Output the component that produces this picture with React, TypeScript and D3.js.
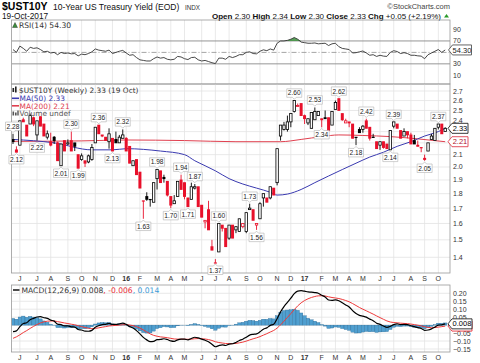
import React from "react";
import * as d3 from "d3";

// ---------- DATA (weekly, first week starts Mon 18-May-2015) ----------
const firstWeek = new Date(2015, 4, 18);

const opens = [
  2.23, 2.14, 2.18, 2.41, 2.36, 2.37, 2.43, 2.27, 2.44, 2.37,
  2.25, 2.21, 2.25, 2.20, 2.01, 2.22, 2.19, 2.22, 2.20, 2.10,
  2.06, 2.05, 2.04, 2.06, 2.20, 2.36, 2.27, 2.25, 2.21, 2.24,
  2.23, 2.20, 2.24, 2.24, 2.17, 2.01, 2.06, 1.96, 1.75, 1.78,
  1.76, 1.74, 1.91, 1.97, 1.92, 1.89, 1.78, 1.73, 1.78, 1.90,
  1.88, 1.77, 1.76, 1.84, 1.85, 1.72, 1.61, 1.69, 1.46, 1.37,
  1.43, 1.59, 1.57, 1.51, 1.59, 1.56, 1.55, 1.58, 1.55, 1.69,
  1.69, 1.59, 1.63, 1.77, 1.77, 1.77, 1.84, 1.88, 2.26, 2.32,
  2.32, 2.39, 2.49, 2.54, 2.57, 2.45, 2.38, 2.33, 2.41, 2.45,
  2.42, 2.43, 2.43, 2.36, 2.51, 2.62, 2.47, 2.38, 2.39, 2.37,
  2.25, 2.32, 2.32, 2.40, 2.34, 2.25, 2.21, 2.18, 2.21, 2.19,
  2.14, 2.35, 2.37, 2.31, 2.26, 2.30, 2.27, 2.22, 2.18, 2.16,
  2.07, 2.13, 2.23, 2.22, 2.34, 2.37, 2.30,
];
const highs = [
  2.28, 2.17, 2.40, 2.43, 2.36, 2.47, 2.44, 2.40, 2.44, 2.37,
  2.31, 2.29, 2.26, 2.21, 2.19, 2.22, 2.23, 2.30, 2.20, 2.10,
  2.11, 2.05, 2.10, 2.19, 2.34, 2.36, 2.27, 2.25, 2.33, 2.24,
  2.30, 2.27, 2.32, 2.25, 2.17, 2.05, 2.06, 1.96, 1.75, 1.81,
  1.76, 1.88, 1.98, 1.97, 1.94, 1.89, 1.78, 1.79, 1.89, 1.94,
  1.88, 1.77, 1.88, 1.87, 1.85, 1.72, 1.62, 1.75, 1.50, 1.39,
  1.60, 1.59, 1.57, 1.59, 1.59, 1.58, 1.63, 1.60, 1.67, 1.73,
  1.69, 1.60, 1.74, 1.80, 1.77, 1.85, 1.84, 2.15, 2.36, 2.39,
  2.45, 2.47, 2.60, 2.57, 2.57, 2.46, 2.42, 2.48, 2.53, 2.49,
  2.42, 2.50, 2.43, 2.49, 2.60, 2.62, 2.47, 2.42, 2.39, 2.37,
  2.25, 2.34, 2.36, 2.42, 2.34, 2.28, 2.21, 2.21, 2.21, 2.19,
  2.31, 2.39, 2.37, 2.31, 2.33, 2.30, 2.29, 2.27, 2.22, 2.16,
  2.10, 2.20, 2.28, 2.33, 2.37, 2.37, 2.34,
];
const lows = [
  2.19, 2.12, 2.18, 2.39, 2.26, 2.37, 2.35, 2.22, 2.35, 2.26,
  2.23, 2.17, 2.19, 2.05, 2.01, 2.13, 2.18, 2.13, 2.13, 1.99,
  2.05, 2.00, 2.03, 2.05, 2.20, 2.28, 2.25, 2.22, 2.15, 2.13,
  2.20, 2.20, 2.24, 2.13, 2.03, 2.01, 1.94, 1.84, 1.63, 1.75,
  1.71, 1.74, 1.83, 1.88, 1.88, 1.78, 1.70, 1.73, 1.78, 1.83,
  1.76, 1.71, 1.76, 1.83, 1.71, 1.64, 1.57, 1.56, 1.44, 1.37,
  1.43, 1.55, 1.46, 1.50, 1.51, 1.54, 1.55, 1.57, 1.54, 1.69,
  1.62, 1.56, 1.63, 1.71, 1.74, 1.76, 1.79, 1.86, 2.22, 2.31,
  2.30, 2.34, 2.48, 2.54, 2.45, 2.37, 2.36, 2.33, 2.41, 2.45,
  2.34, 2.42, 2.31, 2.36, 2.51, 2.50, 2.40, 2.38, 2.34, 2.24,
  2.18, 2.29, 2.29, 2.33, 2.22, 2.25, 2.15, 2.14, 2.15, 2.15,
  2.14, 2.33, 2.33, 2.24, 2.26, 2.24, 2.19, 2.19, 2.17, 2.12,
  2.05, 2.13, 2.23, 2.22, 2.32, 2.28, 2.30,
];
const closes = [
  2.21, 2.12, 2.40, 2.39, 2.26, 2.45, 2.37, 2.40, 2.35, 2.26,
  2.28, 2.18, 2.22, 2.05, 2.19, 2.13, 2.20, 2.13, 2.17, 1.99,
  2.09, 2.03, 2.09, 2.16, 2.34, 2.28, 2.26, 2.22, 2.28, 2.13,
  2.20, 2.25, 2.27, 2.13, 2.03, 2.05, 1.94, 1.84, 1.75, 1.76,
  1.76, 1.88, 1.98, 1.88, 1.91, 1.79, 1.72, 1.75, 1.89, 1.83,
  1.78, 1.71, 1.85, 1.85, 1.71, 1.64, 1.62, 1.56, 1.44, 1.37,
  1.60, 1.57, 1.46, 1.59, 1.51, 1.58, 1.63, 1.60, 1.67, 1.70,
  1.62, 1.60, 1.73, 1.80, 1.74, 1.85, 1.79, 2.15, 2.36, 2.36,
  2.39, 2.47, 2.60, 2.55, 2.45, 2.42, 2.42, 2.48, 2.49, 2.49,
  2.41, 2.42, 2.31, 2.49, 2.58, 2.50, 2.41, 2.40, 2.38, 2.24,
  2.25, 2.29, 2.35, 2.33, 2.24, 2.25, 2.15, 2.21, 2.16, 2.15,
  2.31, 2.39, 2.33, 2.24, 2.30, 2.27, 2.19, 2.19, 2.17, 2.16,
  2.06, 2.20, 2.26, 2.33, 2.37, 2.28, 2.33,
];

// swing labels (week index, value, side)
const swingWeeks = [0, 1, 7, 14, 17, 19, 25, 29, 32, 38, 42, 46, 49, 51, 53, 59, 60, 69, 71, 82, 88, 90, 95, 100, 103, 110, 111, 120, 124];
const swingValues = [2.28, 2.12, 2.22, 2.01, 2.30, 1.99, 2.36, 2.13, 2.32, 1.63, 1.98, 1.70, 1.94, 1.71, 1.87, 1.37, 1.60, 1.73, 1.56, 2.60, 2.53, 2.34, 2.62, 2.18, 2.42, 2.14, 2.39, 2.05, 2.37];
const swingSides = ["H", "L", "L", "L", "H", "L", "H", "L", "H", "L", "H", "L", "H", "L", "H", "L", "H", "H", "L", "H", "H", "L", "H", "L", "H", "L", "H", "L", "H"];

// moving averages
const ma50Weeks = [0, 12, 23, 29, 33, 43, 50, 53, 56, 59, 63, 67, 71, 75, 77, 80, 84, 88, 92, 96, 100, 104, 108, 112, 116, 120, 124, 126];
const ma50Values = [2.23, 2.2, 2.14, 2.14, 2.15, 2.13, 2.1, 2.05, 2.01, 1.97, 1.91, 1.87, 1.84, 1.81, 1.79, 1.797, 1.83, 1.88, 1.93, 1.98, 2.03, 2.08, 2.12, 2.17, 2.21, 2.26, 2.3, 2.33];
const ma200Weeks = [0, 20, 33, 50, 65, 78, 84, 90, 95, 102, 110, 118, 126];
const ma200Values = [2.213, 2.217, 2.225, 2.22, 2.21, 2.21, 2.23, 2.255, 2.27, 2.265, 2.255, 2.235, 2.21];

// RSI(14) per week
const rsiValues = [
  55, 50, 61, 57, 52, 59, 57, 58, 55, 51,
  52, 49, 50, 46, 50, 48, 49, 47.5, 48, 44,
  47, 46, 48, 51, 56, 54, 53, 52, 54, 48,
  50, 52, 53.5, 49, 45, 46, 41, 37, 36, 35,
  35, 39, 42, 40, 41, 38, 37, 38, 43, 42,
  39, 37.5, 41, 41.5, 37, 35, 36, 34, 32, 30.5,
  40, 40, 38, 43, 41, 43, 46, 46, 50, 51,
  48, 47.5, 52, 54.5, 53, 56, 54, 66, 70, 70,
  71, 73, 76, 73, 68, 67, 66, 66, 66.5, 65,
  65.5, 66, 62, 65, 66, 60, 57, 56, 55, 49,
  49.5, 51, 52.5, 49, 45, 46, 43, 45, 43.5, 43,
  50, 53, 51.5, 48, 49.5, 48, 45, 45, 44, 43.5,
  39, 46, 49, 52, 55, 50, 54.3,
];

// MACD seeds read at the first bar
const macdAtStart = -0.041;
const signalAtStart = -0.083;
const ema26AtStart = 2.14;

const priceTicks = [2.7, 2.6, 2.5, 2.4, 2.3, 2.2, 2.1, 2.0, 1.9, 1.8, 1.7, 1.6, 1.5, 1.4];
const rsiTicks = [90, 70, 30, 10];
const macdTicks = [0.2, 0.15, 0.1, 0.05, -0.05, -0.1, -0.15];
const macdGrid = [0.2, 0.15, 0.1, 0.05, 0, -0.05, -0.1, -0.15];
const lastClose = 2.33;
const lastMa200 = 2.21;

// ---------- LAYOUT ----------
const PL = 11.5, PR = 450;
const RSI_T = 20, RSI_B = 84;
const PR_T = 84, PR_B = 273;
const M_T = 285, M_B = 352;
const RED = "#e8102a";
const SANS = "Liberation Sans, Arial, sans-serif";
const VERD = "DejaVu Sans, Verdana, sans-serif";

function ValueBox({ y, text, stroke, color, x0 = 448, w = 20 }: any) {
  const pts = `${x0},${y} ${x0 + 4},${y - 5} ${x0 + w},${y - 5} ${x0 + w},${y + 5} ${x0 + 4},${y + 5}`;
  return (
    <g>
      <polygon points={pts} fill="#fff" stroke={stroke} strokeWidth={0.9} />
      {text ? (
        <text x={x0 + 4 + (w - 4) / 2} y={y + 2.6} textAnchor="middle" fontSize={7.5} fontFamily={SANS} fill={color}>{text}</text>
      ) : null}
    </g>
  );
}

export default function App() {
  const n = closes.length;
  const x = d3.scaleLinear().domain([0, n - 1]).range([13, 445.2]);
  const yP = d3.scaleLog().domain([2.7, 1.4]).range([91, 257.3]);
  const yR = d3.scaleLinear().domain([90, 10]).range([29.5, 75.3]);
  const yM = d3.scaleLinear().domain([0.2, -0.15]).range([293.3, 349]);

  // dates & month ticks
  const dates = closes.map((_, i) => d3.timeDay.offset(firstWeek, 7 * i));
  const monthTicks: { i: number; label: string; year: boolean }[] = [];
  dates.forEach((d, i) => {
    if (i > 0 && d.getMonth() !== dates[i - 1].getMonth()) {
      const jan = d.getMonth() === 0;
      monthTicks.push({ i, label: jan ? d3.timeFormat("%y")(d) : d3.timeFormat("%b")(d)[0], year: jan });
    }
  });

  // MACD from closes
  const macd: number[] = [];
  const signal: number[] = [];
  let e26 = ema26AtStart, e12 = ema26AtStart + macdAtStart, sig = signalAtStart;
  closes.forEach((c, i) => {
    if (i > 0) {
      e12 += (c - e12) * (2 / 13);
      e26 += (c - e26) * (2 / 27);
      sig += (e12 - e26 - sig) * 0.2;
    }
    macd.push(e12 - e26);
    signal.push(sig);
  });
  const hist = macd.map((m, i) => m - signal[i]);

  const ma50Line = d3.line<number>().x((_, k) => x(ma50Weeks[k])).y((v) => yP(v)).curve(d3.curveMonotoneX)(ma50Values) || "";
  const ma200Line = d3.line<number>().x((_, k) => x(ma200Weeks[k])).y((v) => yP(v)).curve(d3.curveMonotoneX)(ma200Values) || "";
  const rsiLine = d3.line<number>().x((_, i) => x(i)).y((v) => yR(v))(rsiValues) || "";
  const rsiFill = d3.area<number>().x((_, i) => x(i)).y0(yR(70)).y1((v) => yR(Math.max(v, 70)))(rsiValues) || "";
  const macdPath = d3.line<number>().x((_, i) => x(i)).y((v) => yM(v)).curve(d3.curveMonotoneX)(macd) || "";
  const sigPath = d3.line<number>().x((_, i) => x(i)).y((v) => yM(v)).curve(d3.curveMonotoneX)(signal) || "";
  const bw = x(1) - x(0);

  const grid = "#e3e3e3";
  const border = "#9a9a9a";
  // price tick labels hidden behind the value boxes (as in the reference)
  const boxYs = [yP(lastClose), yP(lastMa200)];
  const visiblePriceTicks = priceTicks.filter((p) => boxYs.every((by) => Math.abs(yP(p) - by) > 6));

  return (
    <svg width={480} height={363} style={{ position: "absolute", left: 0, top: 0, background: "#fff" }} fontFamily={SANS}>
      <defs>
        <clipPath id="cR"><rect x={PL} y={RSI_T} width={PR - PL} height={RSI_B - RSI_T} /></clipPath>
        <clipPath id="cP"><rect x={PL} y={PR_T} width={PR - PL} height={PR_B - PR_T} /></clipPath>
        <clipPath id="cM"><rect x={PL} y={M_T} width={PR - PL} height={M_B - M_T} /></clipPath>
      </defs>
      <rect x={0} y={0} width={480} height={363} fill="#fff" />

      {/* header */}
      <text x={2} y={10} fontSize={10.5} fontWeight="bold" fill="#000">$UST10Y</text>
      <text x={53} y={10} fontSize={8.5} fill="#111">10-Year US Treasury Yield (EOD)</text>
      <text x={185} y={10} fontSize={6.3} fill="#333">INDX</text>
      <text x={2} y={18.5} fontSize={8.3} fill="#111">19-Oct-2017</text>
      <text x={450} y={8.5} textAnchor="end" fontSize={7.5} fill="#444">©StockCharts.com</text>
      <text x={441} y={18.5} textAnchor="end" fontSize={8} fill="#111">
        <tspan fontWeight="bold">Open</tspan> 2.30 <tspan fontWeight="bold">High</tspan> 2.34 <tspan fontWeight="bold">Low</tspan> 2.30 <tspan fontWeight="bold">Close</tspan> 2.33 <tspan fontWeight="bold">Chg</tspan> +0.05 (+2.19%)
      </text>
      <polygon points="444,17.5 446.5,14 449,17.5" fill="#2a9a2a" />

      {/* ---------------- RSI panel ---------------- */}
      <g clipPath="url(#cR)">
        {monthTicks.map((t) => (
          <line key={t.i} x1={x(t.i)} x2={x(t.i)} y1={RSI_T} y2={RSI_B} stroke={grid} strokeWidth={0.8} />
        ))}
        <line x1={PL} x2={PR} y1={yR(70)} y2={yR(70)} stroke="#8a8a8a" strokeWidth={0.9} />
        <line x1={PL} x2={PR} y1={yR(30)} y2={yR(30)} stroke="#8a8a8a" strokeWidth={0.9} />
        <line x1={PL} x2={PR} y1={yR(50)} y2={yR(50)} stroke="#9a9a9a" strokeWidth={0.9} strokeDasharray="5,2,1,2" />
        <path d={rsiFill} fill="#3c8f3c" opacity={0.85} />
        <path d={rsiLine} fill="none" stroke="#333" strokeWidth={0.9} />
      </g>
      <rect x={PL} y={RSI_T} width={PR - PL} height={RSI_B - RSI_T} fill="none" stroke={border} strokeWidth={0.8} />
      <polygon points="12.5,27.5 15,22.5 17.5,27.5" fill="#3c8f3c" stroke="#222" strokeWidth={0.4} />
      <text x={19} y={27.5} fontSize={7.6} fontFamily={VERD} fill="#333">RSI(14) 54.30</text>
      {rsiTicks.map((t) => (
        <text key={t} x={453} y={yR(t) + 2.5} fontSize={7} fill="#333">{t}</text>
      ))}
      <ValueBox y={yR(54.3)} text="54.30" stroke="#555" color="#222" x0={448.5} w={23} />

      {/* ---------------- Price panel ---------------- */}
      <g clipPath="url(#cP)">
        {monthTicks.map((t) => (
          <line key={t.i} x1={x(t.i)} x2={x(t.i)} y1={PR_T} y2={PR_B} stroke={grid} strokeWidth={0.8} />
        ))}
        {priceTicks.map((p) => (
          <line key={p} x1={PL} x2={PR} y1={yP(p)} y2={yP(p)} stroke={grid} strokeWidth={0.8} />
        ))}
        <path d={ma200Line} fill="none" stroke="#e0404f" strokeWidth={1} />
        <path d={ma50Line} fill="none" stroke="#3a3ab0" strokeWidth={1} />
        {closes.map((c, i) => {
          const o = opens[i], h = highs[i], l = lows[i];
          const prev = i > 0 ? closes[i - 1] : o - 1;
          const col = c >= prev ? "#000" : RED;
          const hollow = c > o;
          const cx = x(i);
          const yt = yP(Math.max(o, c));
          const yb = yP(Math.min(o, c));
          return (
            <g key={i}>
              <line x1={cx} x2={cx} y1={yP(h)} y2={yP(l)} stroke={col} strokeWidth={0.9} />
              {hollow ? (
                <rect x={cx - 1.2} y={yt} width={2.4} height={Math.max(yb - yt, 0.8)} fill="#fff" stroke={col} strokeWidth={0.8} />
              ) : (
                <rect x={cx - 1.5} y={yt - 0.4} width={3} height={Math.max(yb - yt, 0.4) + 0.8} fill={col} />
              )}
            </g>
          );
        })}
      </g>
      <rect x={PL} y={PR_T} width={PR - PL} height={PR_B - PR_T} fill="none" stroke={border} strokeWidth={0.8} />
      {swingWeeks.map((w, k) => {
        const v = swingValues[k];
        const hi = swingSides[k] === "H";
        const cx = x(w);
        const py = yP(v);
        const bh = 8.5, bwid = 15;
        const cy = hi ? py - 7.5 : py + 7.5;
        const top = cy - bh / 2, bot = cy + bh / 2;
        const d = hi
          ? `M${cx - bwid / 2},${top} H${cx + bwid / 2} V${bot} H${cx + 2} L${cx},${bot + 2} L${cx - 2},${bot} H${cx - bwid / 2} Z`
          : `M${cx - bwid / 2},${top} H${cx - 2} L${cx},${top - 2} L${cx + 2},${top} H${cx + bwid / 2} V${bot} H${cx - bwid / 2} Z`;
        return (
          <g key={k}>
            <path d={d} fill="#fff" stroke="#b0b0b0" strokeWidth={0.6} />
            <text x={cx} y={cy + 2.4} textAnchor="middle" fontSize={6.6} fill="#222">{v.toFixed(2)}</text>
          </g>
        );
      })}
      {/* legend */}
      <g fontFamily={VERD} fontSize={7.4}>
        <rect x={12.5} y={88} width={1.6} height={4} fill="#222" />
        <rect x={15} y={86.5} width={1.6} height={6} fill="#222" />
        <text x={19} y={93.3} fill="#333">$UST10Y (Weekly) 2.33 (19 Oct)</text>
        <line x1={12} x2={19} y1={98.3} y2={98.3} stroke="#3a3ab0" strokeWidth={1.6} />
        <text x={19.5} y={100.9} fill="#3a3ab0">MA(50) 2.33</text>
        <line x1={12} x2={19} y1={105.8} y2={105.8} stroke="#e0404f" strokeWidth={1.6} />
        <text x={19.5} y={108.5} fill="#e0404f">MA(200) 2.21</text>
        <rect x={12.5} y={111.5} width={1.6} height={4} fill="#555" />
        <rect x={15} y={112.5} width={1.6} height={3} fill="#555" />
        <rect x={17.3} y={110.5} width={1.4} height={5} fill="#555" />
        <text x={19.5} y={116.1} fill="#555">Volume undef</text>
      </g>
      {visiblePriceTicks.map((p) => (
        <text key={p} x={453} y={yP(p) + 2.5} fontSize={7} fill="#333">{d3.format(".1f")(p)}</text>
      ))}
      <ValueBox y={yP(lastMa200)} text="2.21" stroke="#e0404f" color="#b0102a" />
      <ValueBox y={yP(lastClose)} text="2.33" stroke="#222" color="#000" />

      {/* month labels under price */}
      {monthTicks.map((t) => (
        <text key={t.i} x={x(t.i)} y={281} textAnchor="middle" fontSize={7} fontWeight={t.year ? "bold" : "normal"} fill="#333">{t.label}</text>
      ))}

      {/* ---------------- MACD panel ---------------- */}
      <g clipPath="url(#cM)">
        {monthTicks.map((t) => (
          <line key={t.i} x1={x(t.i)} x2={x(t.i)} y1={M_T} y2={M_B} stroke={grid} strokeWidth={0.8} />
        ))}
        {macdGrid.map((g) => (
          <line key={g} x1={PL} x2={PR} y1={yM(g)} y2={yM(g)} stroke={grid} strokeWidth={0.8} />
        ))}
        {hist.map((h, i) => (
          <rect key={i} x={x(i) - bw / 2} y={Math.min(yM(h), yM(0))} width={bw} height={Math.abs(yM(h) - yM(0))} fill="#4f9fd0" stroke="#2a6a96" strokeWidth={0.35} />
        ))}
        <path d={sigPath} fill="none" stroke="#ee3a3a" strokeWidth={1} />
        <path d={macdPath} fill="none" stroke="#000" strokeWidth={1.2} />
      </g>
      <rect x={PL} y={M_T} width={PR - PL} height={M_B - M_T} fill="none" stroke={border} strokeWidth={0.8} />
      <line x1={13} x2={19.5} y1={290} y2={290} stroke="#000" strokeWidth={1.4} />
      <text x={21.5} y={293} fontSize={7.6} fontFamily={VERD} fill="#333">
        MACD(12,26,9) 0.008<tspan fill="#e8303a">, -0.006</tspan><tspan fill="#3a9ad6">, 0.014</tspan>
      </text>
      {macdTicks.map((t) => (
        <text key={t} x={453} y={yM(t) + 2.5} fontSize={7} fill="#333">{d3.format(".2f")(t)}</text>
      ))}
      <ValueBox y={yM(-0.006)} text="" stroke="#e8303a" color="#c00" x0={448} w={24} />
      <ValueBox y={yM(0.008)} text="0.008" stroke="#222" color="#000" x0={448} w={24} />

      {monthTicks.map((t) => (
        <text key={t.i} x={x(t.i)} y={360} textAnchor="middle" fontSize={7} fontWeight={t.year ? "bold" : "normal"} fill="#333">{t.label}</text>
      ))}
    </svg>
  );
}
